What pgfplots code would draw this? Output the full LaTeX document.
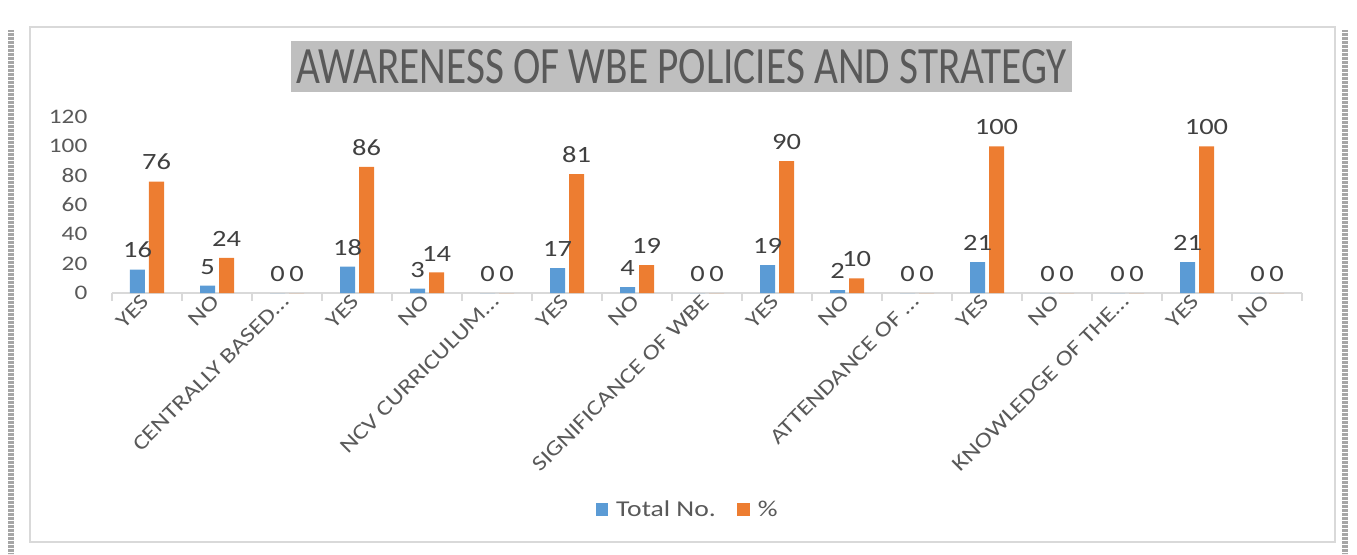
\documentclass[border=0pt]{standalone}
\usepackage{pgfplots}
\usepackage{pgfplotstable}
\usepackage{graphicx}
\pgfplotsset{compat=1.18}
\usepackage{fontspec}
\setmainfont{Carlito}[FakeStretch=1.22]
\definecolor{cblue}{HTML}{5B9BD5}
\definecolor{corange}{HTML}{ED7D31}
\definecolor{ctext}{HTML}{595959}
\definecolor{clab}{HTML}{404040}
\definecolor{cgrid}{HTML}{D9D9D9}
\definecolor{ctitle}{HTML}{BFBFBF}
\pgfplotstableread{
idx total pct
0 16 76
1 5 24
2 0 0
3 18 86
4 3 14
5 0 0
6 17 81
7 4 19
8 0 0
9 19 90
10 2 10
11 0 0
12 21 100
13 0 0
14 0 0
15 21 100
16 0 0
}\datatable
\begin{document}
\begin{tikzpicture}
\draw[cgrid, line width=1.2pt] (-61.5pt,-186.75pt) rectangle (917.25pt,199.5pt);
\draw[gray!70, line width=4pt, dash pattern=on 0.6pt off 0.4pt] (-75.75pt,197.25pt) -- (-75.75pt,-195.75pt);
\draw[gray!70, line width=5pt, dash pattern=on 0.6pt off 0.4pt] (924.75pt,197.25pt) -- (924.75pt,-195.75pt);
\begin{axis}[
  width=892.5pt, height=132pt, scale only axis,
  xmin=-0.5, xmax=16.5, ymin=0, ymax=120,
  ytick={0,20,...,120},
  xtick={0,...,16},
  xticklabels={YES,NO,CENTRALLY BASED…,YES,NO,NCV CURRICULUM…,YES,NO,SIGNIFICANCE OF WBE,YES,NO,ATTENDANCE OF …,YES,NO,KNOWLEDGE OF THE…,YES,NO},
  minor xtick={-0.5,0.5,...,16.5},
  axis x line*=bottom, axis y line*=left,
  y axis line style={draw=none},
  x axis line style={cgrid, line width=1.2pt},
  major tick length=0pt,
  minor tick length=6pt,
  tick align=outside,
  minor x tick style={cgrid, line width=1.2pt},
  ytick style={draw=none},
  major x tick style={draw=none},
  yticklabel style={font=\fontsize{15.5}{15.5}\selectfont, text=ctext, xshift=-15pt},
  xticklabel style={font=\fontsize{16}{16}\selectfont, text=ctext, rotate=45, anchor=east, yshift=-2pt},
  /pgf/number format/assume math mode=true,
  ybar=3pt, bar width=11.25pt,
  nodes near coords,
  every node near coord/.append style={font=\fontsize{17.5}{17.5}\selectfont, text=clab, yshift=5pt},
  legend style={at={(0.484,-1.233)}, anchor=center, draw=none, legend columns=2,
    font=\fontsize{17}{17}\selectfont, text=ctext,
    /tikz/every odd column/.append style={column sep=4pt},
    /tikz/every even column/.append style={column sep=14pt}},
  legend image code/.code={\fill[#1] (0pt,-4.5pt) rectangle (9.5pt,5pt);},
]
\addplot[fill=cblue, draw=none] table[x=idx,y=total]{\datatable};
\addplot[fill=corange, draw=none] table[x=idx,y=pct]{\datatable};
\legend{Total No., \%}
\end{axis}
\node[fill=ctitle, minimum width=586pt, minimum height=38pt, inner sep=0pt, text=ctext] at (427.1pt,169.9pt) {\resizebox{578pt}{25.5pt}{AWARENESS OF WBE POLICIES AND STRATEGY}};
\pgfresetboundingbox
\path[use as bounding box] (-84pt,-195.75pt) rectangle (933.75pt,219.75pt);
\end{tikzpicture}
\end{document}
